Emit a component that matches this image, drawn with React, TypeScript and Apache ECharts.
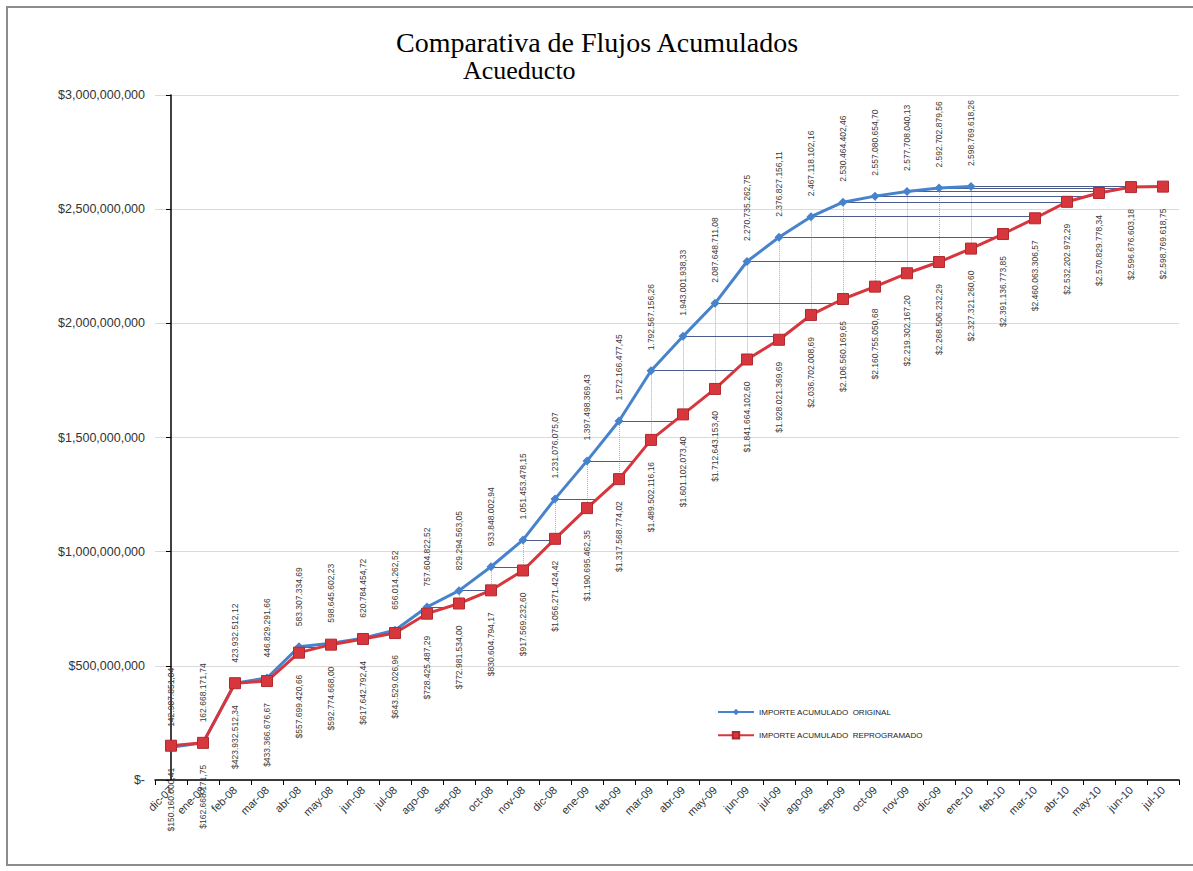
import React, { useEffect, useRef } from 'react';
import * as echarts from 'echarts';

const categories = [
  'dic-07', 'ene-08', 'feb-08', 'mar-08', 'abr-08', 'may-08', 'jun-08', 'jul-08',
  'ago-08', 'sep-08', 'oct-08', 'nov-08', 'dic-08', 'ene-09', 'feb-09', 'mar-09',
  'abr-09', 'may-09', 'jun-09', 'jul-09', 'ago-09', 'sep-09', 'oct-09', 'nov-09',
  'dic-09', 'ene-10', 'feb-10', 'mar-10', 'abr-10', 'may-10', 'jun-10', 'jul-10',
];

const original: (number | null)[] = [
  142907851.04, 162668171.74, 423932512.12, 446829291.66, 583307334.69, 598645602.23,
  620784454.72, 656014262.52, 757604822.52, 829294563.05, 933848002.94, 1051453478.15,
  1231076075.07, 1397498369.43, 1572166477.45, 1792567156.26, 1943001938.33, 2087648711.08,
  2270735262.75, 2376827156.11, 2467118102.16, 2530464402.46, 2557080654.70, 2577708040.13,
  2592702879.56, 2598769618.26, null, null, null, null, null, null,
];

const reprogramado: number[] = [
  150160000.41, 162668171.75, 423932512.34, 433366676.67, 557699420.66, 592774668.00,
  617642792.44, 643529026.96, 728425487.29, 772981534.00, 830604794.17, 917569232.60,
  1056271424.42, 1190695462.35, 1317568774.02, 1489502116.16, 1601102073.40, 1712643153.40,
  1841664102.60, 1928021369.69, 2036702008.69, 2106560169.65, 2160755050.68, 2219302167.20,
  2268506232.29, 2327321260.60, 2391136773.85, 2460063306.57, 2532202972.29, 2570829778.34,
  2596676603.18, 2598769618.75,
];

const seriesNames = ['IMPORTE ACUMULADO  ORIGINAL', 'IMPORTE ACUMULADO  REPROGRAMADO'];
const titleLines = ['Comparativa de Flujos Acumulados', 'Acueducto'];

const BLUE = '#4683cc';
const RED = '#d8363d';

function fmt(v: number): string {
  const [i, d] = v.toFixed(2).split('.');
  return i.replace(/\B(?=(\d{3})+(?!\d))/g, '.') + ',' + d;
}

function buildConnectors() {
  const h: any[] = [];
  const v: any[] = [];
  original.forEach((b, i) => {
    if (b == null) return;
    const r = reprogramado[i];
    if (Math.abs(b - r) > 1e6) v.push({ coords: [[i, b], [i, r]] });
    if (b <= r) return;
    for (let j = i + 1; j < reprogramado.length; j++) {
      if (reprogramado[j] >= b) {
        const x = j - 1 + (b - reprogramado[j - 1]) / (reprogramado[j] - reprogramado[j - 1]);
        h.push({ coords: [[i, b], [x, b]] });
        break;
      }
    }
  });
  return { h, v };
}

export default function App() {
  const ref = useRef<HTMLDivElement>(null);
  useEffect(() => {
    document.body.style.margin = '0';
    if (!ref.current) return;
    const chart = echarts.init(ref.current, null, { renderer: 'svg' });
    const { h, v } = buildConnectors();
    const sans = 'Liberation Sans, Arial, sans-serif';
    const serif = 'Liberation Serif, Times New Roman, serif';
    chart.setOption({
      animation: false,
      backgroundColor: '#ffffff',
      graphic: [
        {
          type: 'rect',
          shape: { x: 7, y: 7, width: 1200, height: 858 },
          style: { fill: 'none', stroke: '#8c8c8c', lineWidth: 2 },
          silent: true,
        },
        {
          type: 'text',
          x: 597,
          y: 28,
          style: {
            text: titleLines[0],
            fontSize: 28,
            fontFamily: serif,
            fill: '#000',
            align: 'center',
            verticalAlign: 'top',
          },
        },
        {
          type: 'text',
          x: 463,
          y: 57,
          style: {
            text: titleLines[1],
            fontSize: 26,
            fontFamily: serif,
            fill: '#000',
            align: 'left',
            verticalAlign: 'top',
          },
        },
      ],
      legend: {
        orient: 'vertical',
        left: 712,
        top: 703,
        itemWidth: 36,
        itemHeight: 8,
        itemGap: 15,
        data: seriesNames,
        textStyle: { fontSize: 8, fontFamily: sans, color: '#222' },
      },
      grid: { left: 155, right: 14, top: 95, bottom: 91, containLabel: false },
      xAxis: [
        {
          type: 'category',
          data: categories,
          boundaryGap: true,
          axisLine: { lineStyle: { color: '#000', width: 1.5 } },
          axisTick: { show: true, length: 5, lineStyle: { color: '#000' } },
          axisLabel: {
            rotate: 45,
            interval: 0,
            fontSize: 11,
            fontFamily: sans,
            color: '#333',
            margin: 8,
          },
          splitLine: { show: false },
        },
        {
          type: 'value',
          min: -0.5,
          max: 31.5,
          show: false,
          gridIndex: 0,
        },
      ],
      yAxis: {
        type: 'value',
        min: 0,
        max: 3000000000,
        interval: 500000000,
        axisLine: { show: true, lineStyle: { color: '#000', width: 1.5 } },
        axisTick: { show: true, length: 5, lineStyle: { color: '#000' } },
        splitLine: { show: true, lineStyle: { color: '#dadada', width: 1 } },
        axisLabel: {
          fontSize: 12.5,
          fontFamily: sans,
          color: '#333',
          margin: 10,
          formatter: (val: number) =>
            val === 0 ? '$-' : '$' + val.toLocaleString('en-US'),
        },
      },
      series: [
        {
          type: 'lines',
          coordinateSystem: 'cartesian2d',
          xAxisIndex: 1,
          yAxisIndex: 0,
          silent: true,
          z: 1,
          data: v,
          lineStyle: { color: '#9fb0d0', width: 1, type: 'dotted', opacity: 1 },
        },
        {
          type: 'lines',
          coordinateSystem: 'cartesian2d',
          xAxisIndex: 1,
          yAxisIndex: 0,
          silent: true,
          z: 1,
          data: h,
          lineStyle: { color: '#4c5c8e', width: 1, opacity: 1 },
        },
        {
          name: seriesNames[0],
          type: 'line',
          data: original,
          z: 3,
          symbol: 'diamond',
          symbolSize: 9,
          lineStyle: { color: BLUE, width: 3 },
          itemStyle: { color: BLUE },
          label: {
            show: true,
            position: 'top',
            distance: 16,
            rotate: 90,
            align: 'left',
            verticalAlign: 'middle',
            fontSize: 8.5,
            fontFamily: sans,
            color: '#3a3a3a',
            formatter: (p: any) => fmt(p.value),
          },
        },
        {
          name: seriesNames[1],
          type: 'line',
          data: reprogramado,
          z: 4,
          symbol: 'rect',
          symbolSize: 11,
          lineStyle: { color: RED, width: 3 },
          itemStyle: { color: RED, borderColor: '#b02a30', borderWidth: 1 },
          label: {
            show: true,
            position: 'bottom',
            distance: 16,
            rotate: 90,
            align: 'right',
            verticalAlign: 'middle',
            fontSize: 8.5,
            fontFamily: sans,
            color: '#3a3a3a',
            formatter: (p: any) => '$' + fmt(p.value),
          },
        },
      ],
    });
    return () => chart.dispose();
  }, []);
  return <div ref={ref} style={{ width: 1193, height: 871 }} />;
}
